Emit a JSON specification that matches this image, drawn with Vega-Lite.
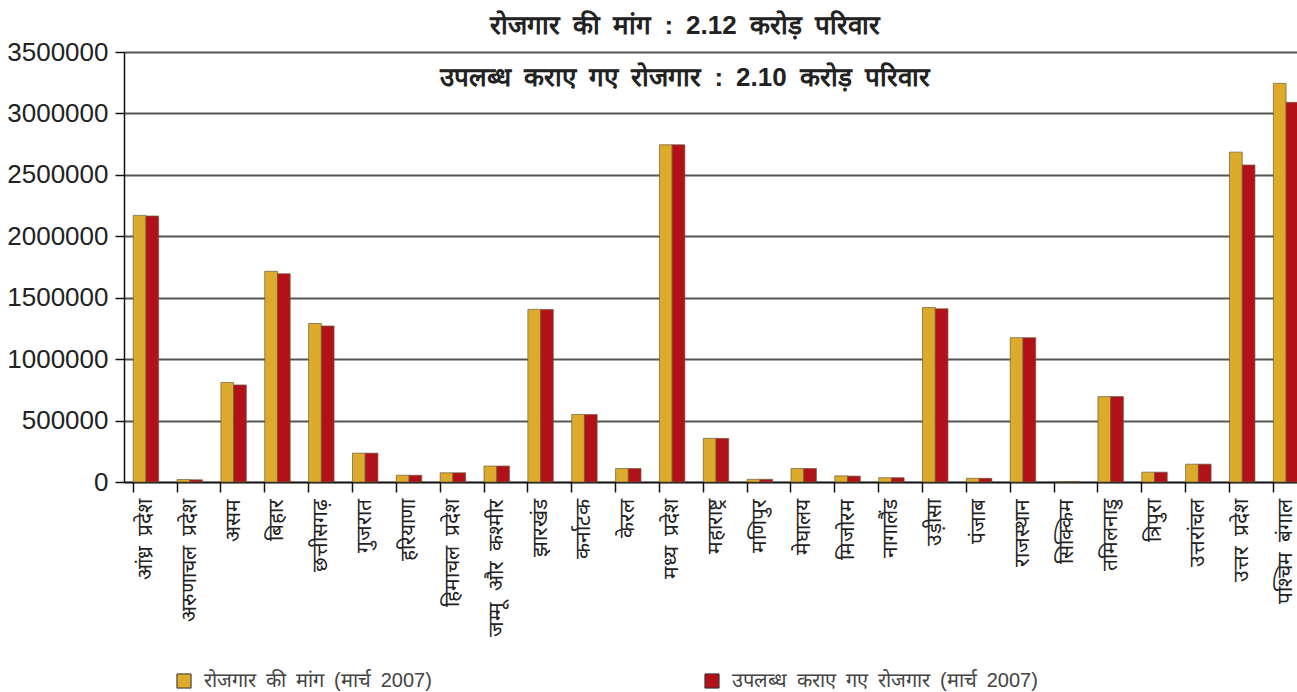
{
  "$schema": "https://vega.github.io/schema/vega-lite/v6.json",
  "width": 1172,
  "height": 430,
  "autosize": {"type": "none"},
  "padding": {"left": 124, "top": 52, "right": 1, "bottom": 210},
  "background": "white",
  "config": {
    "font": "Liberation Sans",
    "view": {"stroke": null}
  },
  "layer": [
    {
      "data": {
        "values": [
          {"state": "आंध्र प्रदेश", "series": "रोजगार की मांग (मार्च 2007)", "value": 2170000},
          {"state": "आंध्र प्रदेश", "series": "उपलब्ध कराए गए रोजगार (मार्च 2007)", "value": 2165000},
          {"state": "अरुणाचल प्रदेश", "series": "रोजगार की मांग (मार्च 2007)", "value": 20000},
          {"state": "अरुणाचल प्रदेश", "series": "उपलब्ध कराए गए रोजगार (मार्च 2007)", "value": 18000},
          {"state": "असम", "series": "रोजगार की मांग (मार्च 2007)", "value": 810000},
          {"state": "असम", "series": "उपलब्ध कराए गए रोजगार (मार्च 2007)", "value": 790000},
          {"state": "बिहार", "series": "रोजगार की मांग (मार्च 2007)", "value": 1715000},
          {"state": "बिहार", "series": "उपलब्ध कराए गए रोजगार (मार्च 2007)", "value": 1695000},
          {"state": "छत्तीसगढ़", "series": "रोजगार की मांग (मार्च 2007)", "value": 1290000},
          {"state": "छत्तीसगढ़", "series": "उपलब्ध कराए गए रोजगार (मार्च 2007)", "value": 1270000},
          {"state": "गुजरात", "series": "रोजगार की मांग (मार्च 2007)", "value": 235000},
          {"state": "गुजरात", "series": "उपलब्ध कराए गए रोजगार (मार्च 2007)", "value": 235000},
          {"state": "हरियाणा", "series": "रोजगार की मांग (मार्च 2007)", "value": 55000},
          {"state": "हरियाणा", "series": "उपलब्ध कराए गए रोजगार (मार्च 2007)", "value": 55000},
          {"state": "हिमाचल प्रदेश", "series": "रोजगार की मांग (मार्च 2007)", "value": 75000},
          {"state": "हिमाचल प्रदेश", "series": "उपलब्ध कराए गए रोजगार (मार्च 2007)", "value": 75000},
          {"state": "जम्मू और कश्मीर", "series": "रोजगार की मांग (मार्च 2007)", "value": 130000},
          {"state": "जम्मू और कश्मीर", "series": "उपलब्ध कराए गए रोजगार (मार्च 2007)", "value": 130000},
          {"state": "झारखंड", "series": "रोजगार की मांग (मार्च 2007)", "value": 1405000},
          {"state": "झारखंड", "series": "उपलब्ध कराए गए रोजगार (मार्च 2007)", "value": 1405000},
          {"state": "कर्नाटक", "series": "रोजगार की मांग (मार्च 2007)", "value": 550000},
          {"state": "कर्नाटक", "series": "उपलब्ध कराए गए रोजगार (मार्च 2007)", "value": 550000},
          {"state": "केरल", "series": "रोजगार की मांग (मार्च 2007)", "value": 110000},
          {"state": "केरल", "series": "उपलब्ध कराए गए रोजगार (मार्च 2007)", "value": 110000},
          {"state": "मध्य प्रदेश", "series": "रोजगार की मांग (मार्च 2007)", "value": 2745000},
          {"state": "मध्य प्रदेश", "series": "उपलब्ध कराए गए रोजगार (मार्च 2007)", "value": 2745000},
          {"state": "महाराष्ट्र", "series": "रोजगार की मांग (मार्च 2007)", "value": 355000},
          {"state": "महाराष्ट्र", "series": "उपलब्ध कराए गए रोजगार (मार्च 2007)", "value": 355000},
          {"state": "मणिपुर", "series": "रोजगार की मांग (मार्च 2007)", "value": 22000},
          {"state": "मणिपुर", "series": "उपलब्ध कराए गए रोजगार (मार्च 2007)", "value": 22000},
          {"state": "मेघालय", "series": "रोजगार की मांग (मार्च 2007)", "value": 110000},
          {"state": "मेघालय", "series": "उपलब्ध कराए गए रोजगार (मार्च 2007)", "value": 110000},
          {"state": "मिजोरम", "series": "रोजगार की मांग (मार्च 2007)", "value": 50000},
          {"state": "मिजोरम", "series": "उपलब्ध कराए गए रोजगार (मार्च 2007)", "value": 48000},
          {"state": "नागालैंड", "series": "रोजगार की मांग (मार्च 2007)", "value": 35000},
          {"state": "नागालैंड", "series": "उपलब्ध कराए गए रोजगार (मार्च 2007)", "value": 35000},
          {"state": "उड़ीसा", "series": "रोजगार की मांग (मार्च 2007)", "value": 1420000},
          {"state": "उड़ीसा", "series": "उपलब्ध कराए गए रोजगार (मार्च 2007)", "value": 1410000},
          {"state": "पंजाब", "series": "रोजगार की मांग (मार्च 2007)", "value": 30000},
          {"state": "पंजाब", "series": "उपलब्ध कराए गए रोजगार (मार्च 2007)", "value": 30000},
          {"state": "राजस्थान", "series": "रोजगार की मांग (मार्च 2007)", "value": 1175000},
          {"state": "राजस्थान", "series": "उपलब्ध कराए गए रोजगार (मार्च 2007)", "value": 1175000},
          {"state": "सिक्किम", "series": "रोजगार की मांग (मार्च 2007)", "value": 3000},
          {"state": "सिक्किम", "series": "उपलब्ध कराए गए रोजगार (मार्च 2007)", "value": 3000},
          {"state": "तमिलनाडु", "series": "रोजगार की मांग (मार्च 2007)", "value": 695000},
          {"state": "तमिलनाडु", "series": "उपलब्ध कराए गए रोजगार (मार्च 2007)", "value": 695000},
          {"state": "त्रिपुरा", "series": "रोजगार की मांग (मार्च 2007)", "value": 80000},
          {"state": "त्रिपुरा", "series": "उपलब्ध कराए गए रोजगार (मार्च 2007)", "value": 80000},
          {"state": "उत्तरांचल", "series": "रोजगार की मांग (मार्च 2007)", "value": 145000},
          {"state": "उत्तरांचल", "series": "उपलब्ध कराए गए रोजगार (मार्च 2007)", "value": 145000},
          {"state": "उत्तर प्रदेश", "series": "रोजगार की मांग (मार्च 2007)", "value": 2685000},
          {"state": "उत्तर प्रदेश", "series": "उपलब्ध कराए गए रोजगार (मार्च 2007)", "value": 2580000},
          {"state": "पश्चिम बंगाल", "series": "रोजगार की मांग (मार्च 2007)", "value": 3245000},
          {"state": "पश्चिम बंगाल", "series": "उपलब्ध कराए गए रोजगार (मार्च 2007)", "value": 3090000}
        ]
      },
      "mark": {"type": "bar", "stroke": "#6b5d3c", "strokeWidth": 0.7},
      "encoding": {
        "x": {
          "field": "state",
          "type": "nominal",
          "sort": null,
          "scale": {"range": [0, 1184], "paddingInner": 0.42, "paddingOuter": 0.21},
          "axis": {
            "title": null,
            "labelAngle": -90,
            "labelAlign": "right",
            "labelBaseline": "middle",
            "labelFontSize": 21,
            "labelColor": "#222",
            "labelPadding": 6,
            "labelLimit": 300,
            "labelExpr": "replace(datum.label, regexp(' ', 'g'), '\u2002')",
            "bandPosition": 0,
            "tickSize": 10,
            "tickColor": "#111",
            "tickWidth": 1.5,
            "domainColor": "#111",
            "domainWidth": 1.5
          }
        },
        "xOffset": {
          "field": "series",
          "type": "nominal",
          "sort": ["रोजगार की मांग (मार्च 2007)", "उपलब्ध कराए गए रोजगार (मार्च 2007)"],
          "scale": {"paddingInner": 0, "paddingOuter": 0}
        },
        "y": {
          "field": "value",
          "type": "quantitative",
          "scale": {"domain": [0, 3500000], "nice": false},
          "axis": {
            "title": null,
            "values": [0, 500000, 1000000, 1500000, 2000000, 2500000, 3000000, 3500000],
            "format": "d",
            "labelFontSize": 26,
            "labelColor": "#222",
            "labelPadding": 7,
            "tickSize": 9,
            "tickColor": "#111",
            "tickWidth": 1.5,
            "domainColor": "#111",
            "domainWidth": 1.5,
            "gridColor": "#555",
            "gridWidth": 2
          }
        },
        "color": {
          "field": "series",
          "type": "nominal",
          "scale": {
            "domain": ["रोजगार की मांग (मार्च 2007)", "उपलब्ध कराए गए रोजगार (मार्च 2007)"],
            "range": ["#DDAB2C", "#B3111A"]
          },
          "legend": {
            "title": null,
            "orient": "none",
            "direction": "horizontal",
            "legendX": 50,
            "legendY": 619,
            "symbolType": "square",
            "symbolSize": 200,
            "symbolStrokeColor": "#333",
            "symbolStrokeWidth": 1,
            "labelFontSize": 20,
            "labelColor": "#444",
            "labelFont": "Liberation Sans",
            "labelOffset": 10,
            "labelLimit": 500,
            "labelExpr": "replace(datum.label, regexp(' ', 'g'), '\u2002')",
            "columnPadding": 270
          }
        }
      }
    },
    {
      "data": {"values": [{}]},
      "mark": {"type": "text", "fontSize": 26, "fontWeight": "bold", "color": "#222", "dx": -25, "baseline": "middle"},
      "encoding": {
        "text": {"value": "रोजगार\u2002की\u2002मांग\u2002:\u20022.12\u2002करोड़\u2002परिवार"},
        "y": {"datum": 3715000}
      }
    },
    {
      "data": {"values": [{}]},
      "mark": {"type": "text", "fontSize": 26, "fontWeight": "bold", "color": "#222", "dx": -25, "baseline": "middle"},
      "encoding": {
        "text": {"value": "उपलब्ध\u2002कराए\u2002गए\u2002रोजगार\u2002:\u20022.10\u2002करोड़\u2002परिवार"},
        "y": {"datum": 3290000}
      }
    }
  ]
}
